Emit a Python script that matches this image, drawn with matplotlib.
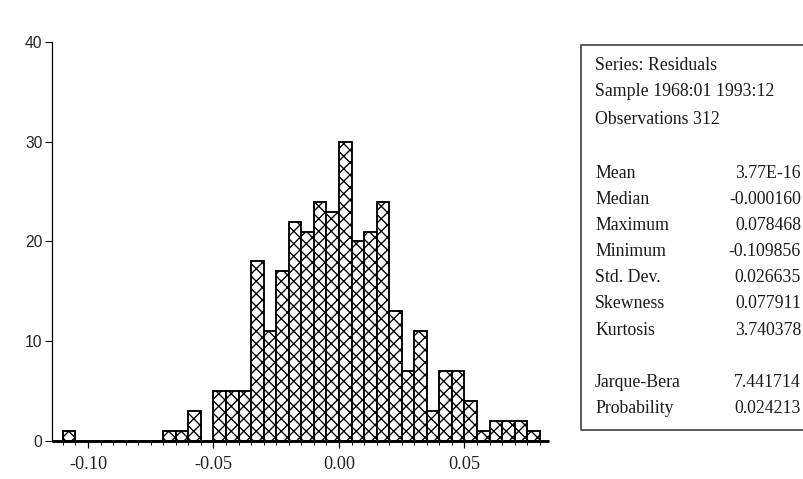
import numpy as np
import matplotlib.pyplot as plt
from matplotlib.patches import Rectangle
from matplotlib.ticker import MultipleLocator
from matplotlib.transforms import ScaledTranslation

# Residual histogram: bin edges every 0.005 starting at -0.110
bin_start = -0.110
bin_width = 0.005
counts = [1, 0, 0, 0, 0, 0, 0, 0, 1, 1, 3, 0, 5, 5, 5, 18, 11, 17, 22, 21,
          24, 23, 30, 20, 21, 24, 13, 7, 11, 3, 7, 7, 4, 1, 2, 2, 2, 1]

stats_header = ["Series: Residuals", "Sample 1968:01 1993:12", "Observations 312"]
stat_names = ["Mean", "Median", "Maximum", "Minimum", "Std. Dev.",
              "Skewness", "Kurtosis", "", "Jarque-Bera", "Probability"]
stat_values = ["3.77E-16", "-0.000160", "0.078468", "-0.109856", "0.026635",
               "0.077911", "3.740378", "", "7.441714", "0.024213"]

W, H, DPI = 803, 479, 75
plt.rcParams["hatch.linewidth"] = 1.3
fig = plt.figure(figsize=(W / DPI, H / DPI), dpi=DPI)

ax = fig.add_axes([52 / W, 38 / H, (549 - 52) / W, (441 - 42) / H])
lefts = bin_start + bin_width * np.arange(len(counts))
ax.bar(lefts, counts, width=bin_width, align="edge", color="white",
       edgecolor="black", linewidth=1.8, hatch="xx")

ax.set_xlim(-0.11434, 0.08367)
ax.set_ylim(0, 40)
ax.set_xticks([-0.10, -0.05, 0.00, 0.05])
ax.set_xticklabels(["-0.10", "-0.05", "0.00", "0.05"], family="Liberation Serif",
                   fontsize=17.5)
ax.xaxis.set_minor_locator(MultipleLocator(0.005))
ax.set_yticks([0, 10, 20, 30, 40])
ax.set_yticklabels(["0", "10", "20", "30", "40"], family="Liberation Sans",
                   fontsize=15)
# y labels sit a few pixels above their ticks
lift = ScaledTranslation(0, 3 / DPI, fig.dpi_scale_trans)
for lab in ax.get_yticklabels():
    lab.set_transform(lab.get_transform() + lift)

ax.tick_params(axis="x", which="major", direction="out", length=7, width=1.2,
               pad=7, colors="black", labelcolor="#222222")
ax.tick_params(axis="x", which="minor", direction="out", length=4, width=1.0)
ax.tick_params(axis="y", direction="out", length=7, width=1.0, pad=2,
               labelcolor="#222222")

for side in ("top", "right"):
    ax.spines[side].set_visible(False)
ax.spines["left"].set_linewidth(1.2)
ax.spines["bottom"].set_linewidth(2.8)
ax.spines["bottom"].set_capstyle("butt")

# Descriptive statistics panel
box = Rectangle((581 / W, 1 - 430 / H), (W + 20 - 581) / W, (430 - 45) / H,
                transform=fig.transFigure, facecolor="white",
                edgecolor="#333333", linewidth=1.5, clip_on=False)
fig.add_artist(box)

font = dict(family="Liberation Serif", fontsize=17, color="#1a1a1a")
for i, line in enumerate(stats_header):
    y = 65 + 27 * i
    fig.text(595 / W, 1 - y / H, line, ha="left", va="center", **font)
for i, (name, val) in enumerate(zip(stat_names, stat_values)):
    y = 173 + 26.2 * i
    fig.text(595 / W, 1 - y / H, name, ha="left", va="center", **font)
    fig.text(801 / W, 1 - y / H, val, ha="right", va="center", **font)

fig.savefig("out.png", dpi=DPI, facecolor="white")
